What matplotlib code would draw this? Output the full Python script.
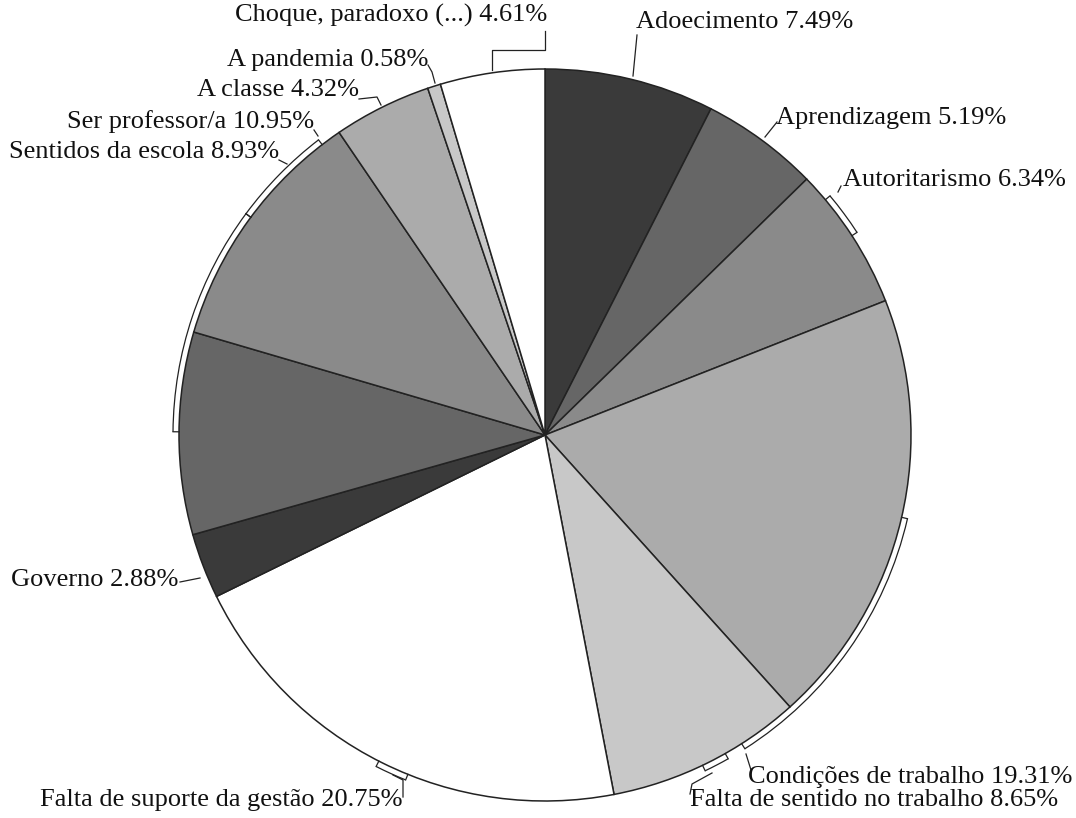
import numpy as np
import matplotlib.pyplot as plt
from matplotlib.patches import Arc

# ---------------------------------------------------------------------------
# Data
# ---------------------------------------------------------------------------
categories = ['Adoecimento', 'Aprendizagem', 'Autoritarismo',
              'Condições de trabalho', 'Falta de sentido no trabalho',
              'Falta de suporte da gestão', 'Governo', 'Sentidos da escola',
              'Ser professor/a', 'A classe', 'A pandemia',
              'Choque, paradoxo (...)']
shares = [7.49, 5.19, 6.34, 19.31, 8.65, 20.75, 2.88, 8.93, 10.95, 4.32,
          0.58, 4.61]
grays = ['#3a3a3a', '#666666', '#8a8a8a', '#ababab', '#c8c8c8', '#ffffff']

# ---------------------------------------------------------------------------
# Canvas (axes in pixel units, y measured from the top of the image)
# ---------------------------------------------------------------------------
W, H = 1076, 818
fig = plt.figure(figsize=(W / 100, H / 100), dpi=100)
ax = fig.add_axes([0, 0, 1, 1])


def P(px, py):
    return px, H - py


CX, CY = P(545, 435)
R = 366
GAP = 6

colors = [grays[i % len(grays)] for i in range(len(shares))]
ax.pie(shares, colors=colors, startangle=90, counterclock=False,
       center=(CX, CY), radius=R, frame=True,
       wedgeprops=dict(edgecolor='#222222', linewidth=1.1))
ax.set_xlim(0, W)
ax.set_ylim(0, H)
ax.set_aspect('equal')
ax.axis('off')

# ---------------------------------------------------------------------------
# Labels: text anchor (px), alignment, bracket span (deg) and leader (px)
# ---------------------------------------------------------------------------
FONT = dict(family='Liberation Serif', fontsize=19, color='#111111')
LINE = dict(color='#222222', lw=0.9)

label_layout = [
    # (text x, text y, ha, bracket angles or None, leader points)
    (636, 22, 'left', None, [(637, 35), (633, 76)]),
    (776, 118, 'left', None, [(777, 122), (765, 137)]),
    (843, 180, 'left', (33.0, 40.0), [(841, 186), (838, 192)]),
    (748, 777, 'left', (-57.5, -13.0), [(751, 770), (746, 754)]),
    (690, 800, 'left', (-64.5, -60.5), [(690, 794), (692, 784), (712, 773)]),
    (402, 800, 'right', (-117.0, -112.0), [(403, 797), (403, 780), (393, 775)]),
    (178, 580, 'right', None, [(180, 582), (200, 578)]),
    (279, 152, 'right', (143.5, 179.5), [(279, 160), (287, 164)]),
    (314, 122, 'right', (127.5, 143.5), [(314, 130), (318, 136)]),
    (359, 90, 'right', None, [(359, 99), (377, 97), (381, 105)]),
    (428, 60, 'right', None, [(428, 65), (432, 72), (435, 83)]),
    (547, 15, 'right', None, [(545, 31), (545, 50), (492, 50), (492, 70)]),
]

for name, val, (tx, ty, ha, br, leader) in zip(categories, shares,
                                                label_layout):
    x, y = P(tx, ty)
    ax.text(x, y, f'{name} {val:.2f}%', ha=ha, va='center', **FONT)
    pts = np.array([P(px, py) for px, py in leader])
    ax.plot(pts[:, 0], pts[:, 1], **LINE)
    if br is not None:
        a1, a2 = br
        arc = Arc((CX, CY), 2 * (R + GAP), 2 * (R + GAP), theta1=a1,
                  theta2=a2, **LINE)
        ax.add_patch(arc)
        for a in (a1, a2):
            t = np.radians(a)
            ax.plot([CX + R * np.cos(t), CX + (R + GAP) * np.cos(t)],
                    [CY + R * np.sin(t), CY + (R + GAP) * np.sin(t)], **LINE)

fig.savefig('out.png', dpi=100, facecolor='white')
